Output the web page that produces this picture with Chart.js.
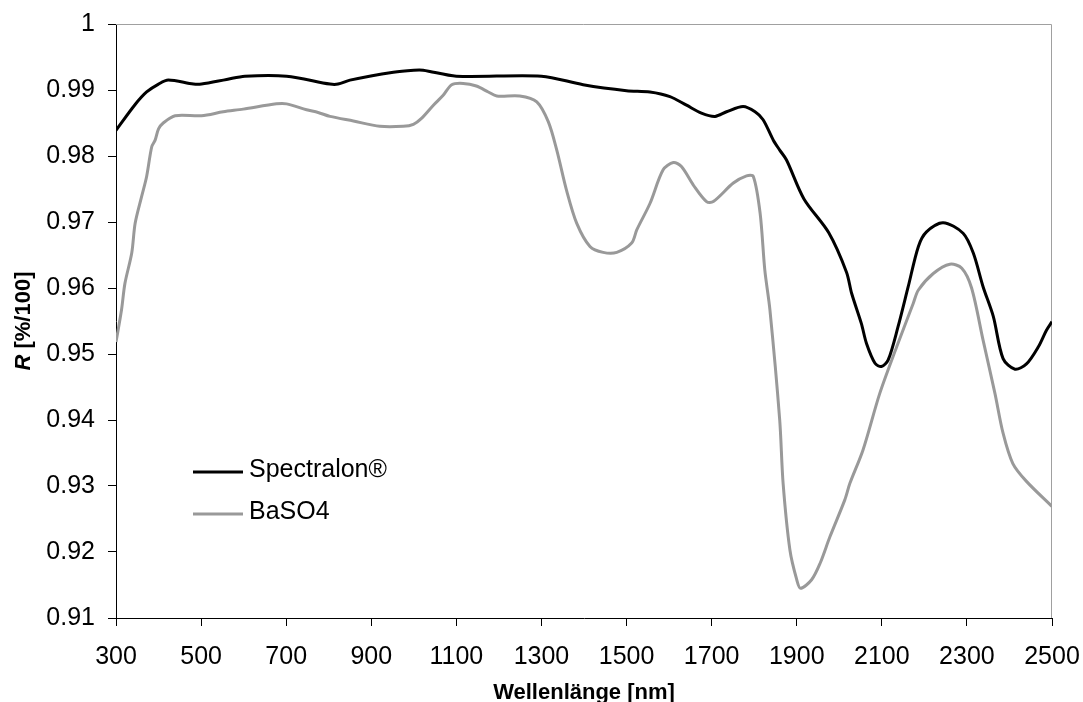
<!DOCTYPE html>
<html>
<head>
<meta charset="utf-8">
<script src="https://cdn.jsdelivr.net/npm/chart.js@4.4.1/dist/chart.umd.min.js"></script>
<style>
  html, body { margin: 0; padding: 0; background: #fff; }
  #wrap { width: 1083px; height: 702px; }
</style>
</head>
<body>
<div id="wrap"><canvas id="reflChart" width="1083" height="702"></canvas></div>
<script>
// values
const spectralonNm = [300, 345, 372, 400, 423, 482, 501, 560, 603, 701, 803, 822, 850, 952, 1000, 1022, 1100, 1300,
  1398, 1500, 1555, 1602, 1641, 1676, 1708, 1735, 1774, 1802, 1821, 1845, 1860, 1876, 1917, 1975, 2017, 2029, 2052,
  2064, 2084, 2099, 2115, 2138, 2162, 2186, 2205, 2244, 2291, 2315, 2338, 2362, 2385, 2413, 2440, 2468, 2487, 2500];
const spectralonR = [0.9839, 0.9878, 0.9897, 0.9909, 0.9915, 0.9909, 0.9909, 0.9916, 0.9921, 0.9921, 0.9909, 0.9909,
  0.9915, 0.9927, 0.9930, 0.9930, 0.9921, 0.9921, 0.9908, 0.9899, 0.9897, 0.9890, 0.9877, 0.9865, 0.9860, 0.9867,
  0.9875, 0.9867, 0.9855, 0.9824, 0.9809, 0.9794, 0.9735, 0.9684, 0.9624, 0.9592, 0.9546, 0.9516, 0.9486, 0.9481,
  0.9491, 0.9541, 0.9602, 0.9663, 0.9685, 0.9699, 0.9683, 0.9653, 0.9602, 0.9557, 0.9493, 0.9477, 0.9485, 0.9511,
  0.9536, 0.9549];

const baso4Nm = [300, 313, 321, 337, 345, 360, 372, 384, 392, 400, 411, 439, 501, 552, 599, 677, 701, 748, 775, 803,
  858, 920, 975, 999, 1018, 1046, 1069, 1089, 1116, 1147, 1175, 1195, 1249, 1289, 1316, 1336, 1359, 1383, 1414, 1445,
  1477, 1512, 1524, 1555, 1586, 1610, 1629, 1657, 1688, 1704, 1751, 1782, 1798, 1814, 1825, 1837, 1860, 1868, 1884,
  1900, 1909, 1935, 1955, 1978, 2013, 2025, 2056, 2095, 2135, 2174, 2186, 2221, 2260, 2288, 2311, 2338, 2366, 2385,
  2408, 2440, 2500];
const baso4R = [0.9518, 0.9567, 0.9607, 0.9653, 0.9698, 0.9738, 0.9769, 0.9814, 0.9824, 0.9841, 0.9850, 0.9861,
  0.9861, 0.9867, 0.9871, 0.9879, 0.9879, 0.9870, 0.9866, 0.9860, 0.9853, 0.9845, 0.9845, 0.9848, 0.9857, 0.9877,
  0.9892, 0.9908, 0.9910, 0.9906, 0.9897, 0.9891, 0.9891, 0.9882, 0.9852, 0.9809, 0.9748, 0.9698, 0.9663, 0.9654,
  0.9654, 0.9668, 0.9688, 0.9728, 0.9779, 0.9790, 0.9784, 0.9756, 0.9731, 0.9731, 0.9759, 0.9770, 0.9769, 0.9713,
  0.9627, 0.9567, 0.9400, 0.9304, 0.9203, 0.9158, 0.9145, 0.9158, 0.9183, 0.9223, 0.9279, 0.9304, 0.9355, 0.9440,
  0.9511, 0.9577, 0.9597, 0.9622, 0.9636, 0.9630, 0.9600, 0.9521, 0.9440, 0.9380, 0.9334, 0.9307, 0.9269];

const seriesNames = ["Spectralon\u00AE", "BaSO4"];
const seriesColors = ["#000000", "#999999"];
const xTicks = [300, 500, 700, 900, 1100, 1300, 1500, 1700, 1900, 2100, 2300, 2500];
const yTicks = [0.91, 0.92, 0.93, 0.94, 0.95, 0.96, 0.97, 0.98, 0.99, 1];

const FONT = "'Liberation Sans', Arial, sans-serif";

function pts(xs, ys) {
  return xs.map((x, i) => ({ x: x, y: ys[i] }));
}

// gray frame on top/right, legend inside the plot, axis titles
const extras = {
  id: "extras",
  beforeDatasetsDraw(chart) {
    const { ctx, chartArea: a } = chart;
    ctx.save();
    ctx.strokeStyle = "#a0a0a0";
    ctx.lineWidth = 1;
    ctx.beginPath();
    ctx.moveTo(a.left, a.top + 0.5);
    ctx.lineTo(a.right - 0.5, a.top + 0.5);
    ctx.lineTo(a.right - 0.5, a.bottom);
    ctx.stroke();
    ctx.restore();
  },
  afterDraw(chart) {
    const { ctx, chartArea: a } = chart;
    ctx.save();
    // legend
    seriesNames.forEach((name, i) => {
      const y = 472 + i * 42;
      ctx.strokeStyle = seriesColors[i];
      ctx.lineWidth = 3;
      ctx.beginPath();
      ctx.moveTo(193, y);
      ctx.lineTo(243, y);
      ctx.stroke();
      ctx.fillStyle = "#000";
      ctx.font = "25px " + FONT;
      ctx.textAlign = "left";
      ctx.textBaseline = "alphabetic";
      ctx.fillText(name, 249, y + 5);
    });
    // x title
    ctx.font = "bold 22px " + FONT;
    ctx.textAlign = "center";
    ctx.fillText("Wellenl\u00E4nge [nm]", (a.left + a.right) / 2, 699);
    // y title, R in italics
    ctx.translate(30, (a.top + a.bottom) / 2);
    ctx.rotate(-Math.PI / 2);
    const p1 = "R", p2 = " [%/100]";
    ctx.font = "italic bold 22px " + FONT;
    const w1 = ctx.measureText(p1).width;
    ctx.font = "bold 22px " + FONT;
    const w2 = ctx.measureText(p2).width;
    ctx.textAlign = "left";
    let x0 = -(w1 + w2) / 2;
    ctx.font = "italic bold 22px " + FONT;
    ctx.fillText(p1, x0, 0);
    ctx.font = "bold 22px " + FONT;
    ctx.fillText(p2, x0 + w1, 0);
    ctx.restore();
  }
};

const ctx = document.getElementById("reflChart").getContext("2d");
new Chart(ctx, {
  type: "line",
  data: {
    datasets: [
      { label: seriesNames[0], data: pts(spectralonNm, spectralonR), borderColor: seriesColors[0], borderWidth: 3,
        pointRadius: 0, tension: 0.3, fill: false },
      { label: seriesNames[1], data: pts(baso4Nm, baso4R), borderColor: seriesColors[1], borderWidth: 3,
        pointRadius: 0, tension: 0.3, fill: false }
    ]
  },
  options: {
    responsive: false,
    animation: false,
    devicePixelRatio: 1,
    layout: { padding: { left: 0, top: 24, right: 31, bottom: 0 } },
    plugins: { legend: { display: false }, tooltip: { enabled: false } },
    scales: {
      x: {
        type: "linear", min: 300, max: 2500,
        afterBuildTicks: s => { s.ticks = xTicks.map(v => ({ value: v })); },
        afterFit: s => { s.height = 84; s.paddingLeft = 0; s.paddingRight = 0; },
        ticks: { color: "#000", font: { family: FONT, size: 25 }, padding: 16, maxRotation: 0, autoSkip: false,
          callback: v => String(v) },
        grid: { display: true, drawOnChartArea: false, drawTicks: true, tickLength: 8, color: "#000", tickWidth: 1 },
        border: { display: true, color: "#000", width: 1 }
      },
      y: {
        type: "linear", min: 0.91, max: 1,
        afterBuildTicks: s => { s.ticks = yTicks.map(v => ({ value: v })); },
        afterFit: s => { s.width = 116; s.paddingTop = 0; s.paddingBottom = 0; },
        ticks: { color: "#000", font: { family: FONT, size: 25 }, padding: 13, autoSkip: false,
          callback: v => String(+v.toFixed(2)) },
        grid: { display: true, drawOnChartArea: false, drawTicks: true, tickLength: 8, color: "#000", tickWidth: 1 },
        border: { display: true, color: "#000", width: 1 }
      }
    }
  },
  plugins: [extras]
});
</script>
</body>
</html>
